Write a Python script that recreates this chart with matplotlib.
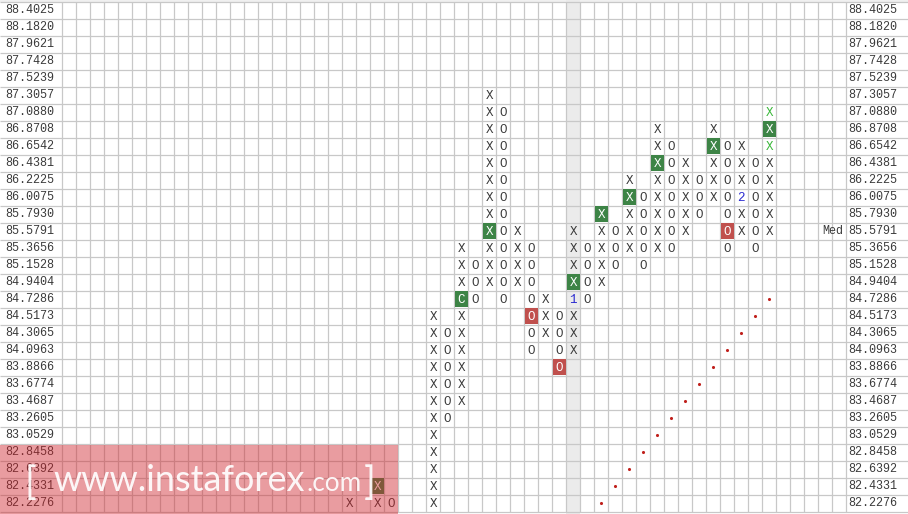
import matplotlib
matplotlib.use("Agg")
import matplotlib.pyplot as plt
from matplotlib.patches import Rectangle

# -----------------------------
# Price levels (top to bottom)
# -----------------------------
prices = [88.4025, 88.1820, 87.9621, 87.7428, 87.5239, 87.3057, 87.0880,
          86.8708, 86.6542, 86.4381, 86.2225, 86.0075, 85.7930, 85.5791,
          85.3656, 85.1528, 84.9404, 84.7286, 84.5173, 84.3065, 84.0963,
          83.8866, 83.6774, 83.4687, 83.2605, 83.0529, 82.8458, 82.6392,
          82.4331, 82.2276]

# -----------------------------
# Point & figure columns: index, kind, low, high
# -----------------------------
col_idx = [20, 22, 23, 26, 27, 28, 29, 30, 31, 32, 33, 34, 35, 36,
           37, 38, 39, 40, 41, 42, 43, 44, 45, 46, 47, 48, 49, 50]
col_kind = ["X", "X", "O", "X", "O", "X", "O", "X", "O", "X", "O", "X", "O", "X",
            "O", "X", "O", "X", "O", "X", "O", "X", "O", "X", "O", "X", "O", "X"]
col_low = [82.2276, 82.2276, 82.2276, 82.2276, 83.2605, 83.4687, 84.7286,
           84.9404, 84.7286, 84.9404, 84.0963, 84.3065, 83.8866, 84.0963,
           84.7286, 84.9404, 85.1528, 85.3656, 85.1528, 85.3656, 85.3656,
           85.5791, 85.7930, 86.0075, 85.3656, 85.5791, 85.3656, 85.5791]
col_high = [82.2276, 82.4331, 82.2276, 84.5173, 84.3065, 85.3656, 85.1528,
            87.3057, 87.0880, 85.5791, 85.3656, 84.7286, 84.5173, 85.5791,
            85.3656, 85.7930, 85.5791, 86.2225, 86.0075, 86.8708, 86.6542,
            86.4381, 86.2225, 86.8708, 86.6542, 86.6542, 86.4381, 87.0880]

# highlighted cells
green_cells = [(22, 82.4331), (28, 84.7286), (30, 85.5791), (36, 84.9404),
               (38, 85.7930), (40, 86.0075), (42, 86.4381), (46, 86.6542),
               (50, 86.8708)]
red_cells = [(33, 84.5173), (35, 83.8866), (47, 85.5791)]
label_cells = [(28, 84.7286, "C"), (36, 84.7286, "1"), (48, 86.0075, "2")]
light_cells = [(50, 86.6542), (50, 87.0880)]

# trend line dots
trend_cols = [38, 39, 40, 41, 42, 43, 44, 45, 46, 47, 48, 49, 50]
trend_prices = [82.2276, 82.4331, 82.6392, 82.8458, 83.0529, 83.2605, 83.4687,
                83.6774, 83.8866, 84.0963, 84.3065, 84.5173, 84.7286]

n_cols = 56
highlight_col = 36
median_price = 85.5791

GRID = "#c8c8c8"
TXT = "#3a3a3a"
GREEN = "#3d8446"
RED = "#c0504d"
MONO = "Liberation Mono"


def row(p):
    return len(prices) - 1 - prices.index(p)


fig = plt.figure(figsize=(9.08, 5.14), dpi=100)
ax = fig.add_axes([0, 0, 1, 1])
ax.axis("off")
# x: one unit per column (14 px), y: one unit per price row (17 px)
x0, x1 = -62.3 / 14, (908 - 62.3) / 14
ax.set_xlim(x0, x1)
ax.set_ylim(-2.5 / 17, 30 + 1.5 / 17)

ax.axhspan(30, 31, color="#f0f0f0", lw=0)
ax.axvspan(highlight_col, highlight_col + 1, ymin=0, ymax=1, color="#ebebeb", lw=0)

ax.hlines(range(len(prices) + 1), x0, x1, color=GRID, lw=0.9)
ax.vlines(range(n_cols + 1), 0, len(prices), color=GRID, lw=0.9)

# price labels, both sides
for p in prices:
    y = row(p) + 0.5
    ax.text(x0 + 5 / 14, y, f"{p:.4f}", ha="left", va="center",
            family=MONO, fontsize=8.5, color=TXT)
    ax.text(n_cols + 1.7 / 14, y, f"{p:.4f}", ha="left", va="center",
            family=MONO, fontsize=8.5, color=TXT)
ax.text(n_cols - 0.2, row(median_price) + 0.5, "Med", ha="right", va="center",
        family=MONO, fontsize=8.5, color=TXT)

# boxes
for c, p in green_cells:
    ax.add_patch(Rectangle((c + 0.04, row(p) + 0.04), 0.92, 0.92,
                           color=GREEN, lw=0, zorder=2))
for c, p in red_cells:
    ax.add_patch(Rectangle((c + 0.04, row(p) + 0.04), 0.92, 0.92,
                           color=RED, lw=0, zorder=2))

box_set = set(green_cells) | set(red_cells)
special = {(c, p): s for c, p, s in label_cells}
light_set = set(light_cells)

for c, k, lo, hi in zip(col_idx, col_kind, col_low, col_high):
    for p in prices:
        if lo <= p <= hi:
            s = special.get((c, p), k)
            color = TXT
            if (c, p) in box_set:
                color = "white"
            elif s in ("1", "2"):
                color = "#2a2ad0"
            elif (c, p) in light_set:
                color = "#3cb83c"
            ax.text(c + 0.5, row(p) + 0.45, s, ha="center", va="center",
                    family=MONO, fontsize=9, color=color, zorder=3)

ax.scatter([c + 0.5 for c in trend_cols], [row(p) + 0.5 for p in trend_prices],
           s=5, color="#c0201c", zorder=3, lw=0)

# watermark
ax.add_patch(Rectangle((x0, -0.2), 398.3 / 14, 4.1, color="#d0242c",
                       alpha=0.45, lw=0, zorder=5))
wm_kw = dict(ha="left", va="baseline", family="Lato", color="white",
             alpha=0.92, zorder=6)
ax.text(x0 + 24 / 14, 1.0, "[", fontsize=28, **wm_kw)
main = ax.text(x0 + 53 / 14, 1.2, "www.instaforex", fontsize=30, **wm_kw)
dotcom = ax.text(x0 + 306 / 14, 1.2, ".com", fontsize=24, **wm_kw)
ax.text(x0 + 364 / 14, 1.0, "]", fontsize=28, **wm_kw)

# fit the main watermark word to its width in the reference (~252 px)
fig.canvas.draw()
w = main.get_window_extent().width
main.set_fontsize(30 * 252 / w)
w2 = dotcom.get_window_extent().width
dotcom.set_fontsize(24 * 55 / w2)

fig.savefig("out.png", dpi=100)
